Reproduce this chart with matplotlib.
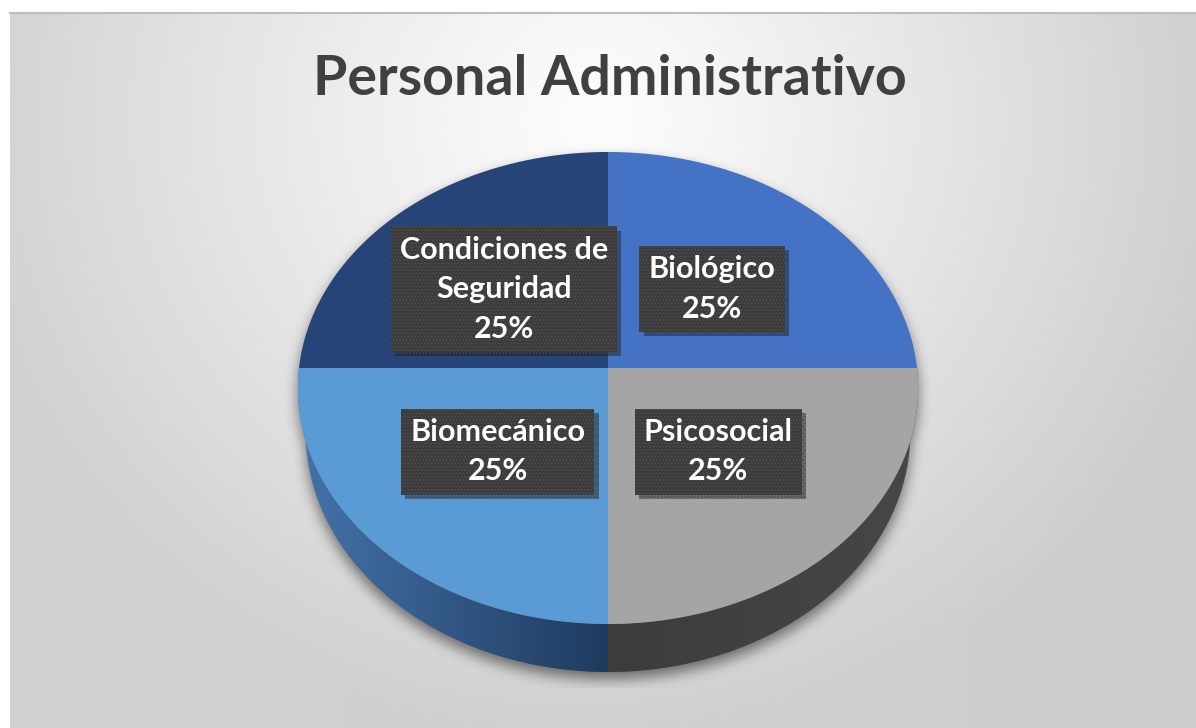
import numpy as np
import matplotlib.pyplot as plt
from matplotlib.path import Path
from matplotlib.patches import Polygon
from matplotlib.colors import to_rgb
import matplotlib.patheffects as pe

# --- data (clockwise from 12 o'clock, as in the original chart) ---
labels = ["Biológico", "Psicosocial", "Biomecánico", "Condiciones de\nSeguridad"]
values = [25, 25, 25, 25]
title = "Personal Administrativo"

# --- style ---
top_colors = ["#4472C4", "#A5A5A5", "#5B9BD5", "#264478"]
side_colors = [("#2F5597", "#1F3A66"), ("#474747", "#3C3C3C"),
               ("#4473AA", "#1F3A5E"), ("#1F3864", "#1A2F55")]

W, H = 1196, 728
cx, cy = 608, 368          # projected pie centre (px)
A, B, p = 309, 234.3, 0.0847   # horizontal / vertical scale and perspective
depth = 44
shrink = 0.975             # bottom rim is a little smaller (seen from above)


def proj(theta, r=1.0, drop=0.0, s=1.0):
    # theta in degrees, clockwise from the top (far side of the pie)
    t = np.radians(theta)
    X, Z = r * np.sin(t), r * np.cos(t)
    w = 1 + p * Z
    return cx + s * A * X / w, cy - B * Z / w + drop / w


def rim(a0, a1, drop=0.0, s=1.0, n=120):
    th = np.linspace(a0, a1, n)
    x, y = proj(th, 1.0, drop, s)
    return np.column_stack([x, y])


fig = plt.figure(figsize=(W / 100, H / 100), dpi=100)
ax = fig.add_axes([0, 0, 1, 1])
ax.set_xlim(0, W)
ax.set_ylim(H, 0)
ax.axis("off")

# background: radial grey gradient inside the chart frame
yy, xx = np.mgrid[0:H, 0:W] + 0.5
t = np.sqrt(((xx - 600) / 640) ** 2 + ((yy - 120) / 620) ** 2)
t = np.clip(t, 0, 1) ** 1.1
g = 1.0 - (1.0 - 0.82) * t - 0.015 * (xx / W)
bg = np.dstack([g, g, g])
frame = (xx >= 10) & (yy >= 12)
bg[~frame] = 1.0
ax.imshow(bg, extent=(0, W, H, 0), zorder=0, interpolation="bilinear")
ax.plot([10, W], [12.5, 12.5], color="#BDBDBD", lw=1.5, zorder=1)

# angles of each slice from the values
total = sum(values)
fracs = [v / total for v in values]
starts = np.concatenate([[0], np.cumsum(fracs)[:-1]]) * 360
ends = np.cumsum(fracs) * 360

# soft shadow of the whole pie silhouette
top_outline = rim(0, 360)
side_outline = np.vstack([rim(90, 270), rim(270, 90, depth, shrink)])
pts = np.column_stack([xx.ravel(), yy.ravel()])
mask = (Path(top_outline).contains_points(pts) | Path(side_outline).contains_points(pts))
mask = mask.reshape(H, W).astype(float)
mask = np.roll(mask, 7, axis=0)


def box_blur(a, r, axis):
    c = np.cumsum(np.pad(a, [(r + 1, r) if i == axis else (0, 0) for i in range(2)], mode="edge"), axis=axis)
    if axis == 0:
        return (c[2 * r + 1:] - c[:-2 * r - 1]) / (2 * r + 1)
    return (c[:, 2 * r + 1:] - c[:, :-2 * r - 1]) / (2 * r + 1)


sh = mask
for _ in range(3):
    sh = box_blur(sh, 6, 0)
    sh = box_blur(sh, 6, 1)
sh[yy > 688] = 0
shadow = np.zeros((H, W, 4))
shadow[..., 3] = sh * 0.5
ax.imshow(shadow, extent=(0, W, H, 0), zorder=2, interpolation="bilinear")

# side walls (only the front half is visible)
for a0, a1, (c_out, c_in) in zip(starts, ends, side_colors):
    lo, hi = max(a0, 90), min(a1, 270)
    if hi <= lo:
        continue
    poly = np.vstack([rim(lo, hi), rim(hi, lo, depth, shrink)])
    patch = Polygon(poly, closed=True, facecolor="none", edgecolor="none", zorder=3)
    ax.add_patch(patch)
    x0, x1 = poly[:, 0].min(), poly[:, 0].max()
    c1, c2 = np.array(to_rgb(c_out)), np.array(to_rgb(c_in))
    s = np.linspace(0, 1, 256)
    if poly[:, 0].mean() > cx:
        s = s[::-1]
    grad = c1[None, :] * (1 - s[:, None]) + c2[None, :] * s[:, None]
    im = ax.imshow(grad[None, :, :], extent=(x0, x1, poly[:, 1].max(), poly[:, 1].min()),
                   aspect="auto", zorder=3, interpolation="bilinear")
    im.set_clip_path(patch)

# top face slices
for a0, a1, col in zip(starts, ends, top_colors):
    poly = np.vstack([[cx, cy], rim(a0, a1)])
    ax.add_patch(Polygon(poly, closed=True, facecolor=col, edgecolor="none", zorder=4))

# data labels in dark boxes
for a0, a1, lab, v in zip(starts, ends, labels, values):
    mid = (a0 + a1) / 2
    lx, ly = proj(mid, 0.49)
    txt = ax.text(lx, ly, f"{lab}\n{v / total:.0%}", ha="center", va="center",
                  multialignment="center", color="white", fontsize=22, fontweight="bold",
                  family=["Lato", "DejaVu Sans"], linespacing=1.5, zorder=6,
                  bbox=dict(boxstyle="square,pad=0.3", facecolor="#3A3A3A",
                            edgecolor="#4E4E4E", linewidth=0, hatch="....."))
    txt.get_bbox_patch().set_path_effects([
        pe.SimplePatchShadow(offset=(3, -3), shadow_rgbFace="black", alpha=0.35), pe.Normal()])

ax.text(610, 79, title, ha="center", va="center", fontsize=40, fontweight="bold",
        color="#404040", family=["Lato", "DejaVu Sans"], zorder=6)

fig.savefig("out.png", dpi=100)
